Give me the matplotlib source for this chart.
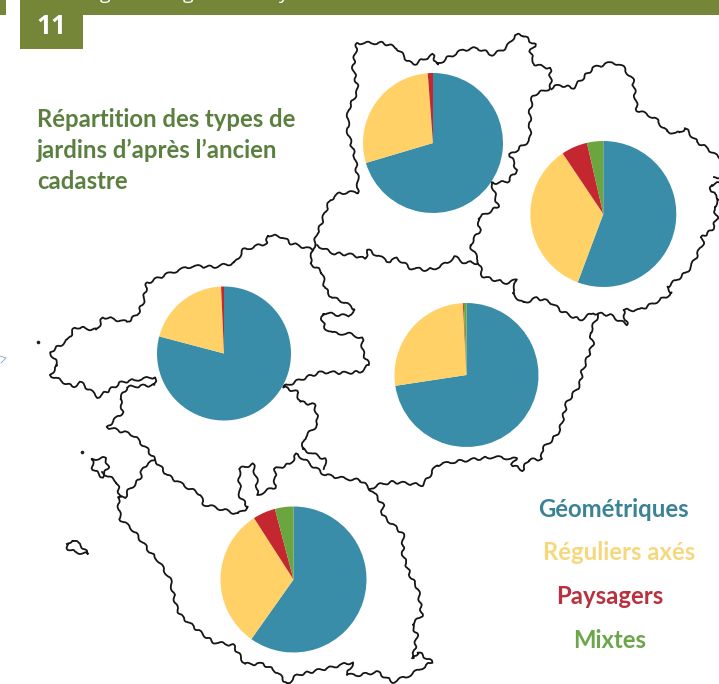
import matplotlib
matplotlib.use("Agg")
import matplotlib.pyplot as plt

W, H = 719, 684

# pie shares in % : Géométriques, Réguliers axés, Paysagers, Mixtes
types = ["Géométriques", "Réguliers axés", "Paysagers", "Mixtes"]
colors = ["#3A8DA9", "#FFD166", "#C4272F", "#6BA53D"]
text_colors = ["#3A8296", "#F6D87C", "#B9303F", "#6BA64A"]

mayenne = [70.4, 28.4, 1.2, 0.0]
sarthe = [55.7, 34.9, 5.8, 3.6]
maine_et_loire = [72.6, 26.6, 0.2, 0.6]
loire_atlantique = [79.1, 20.2, 0.7, 0.0]
vendee = [59.8, 31.1, 5.0, 4.1]

# (values, x, y, radius) in image pixels
pies = [
    (mayenne, 433, 143, 70),
    (sarthe, 603.3, 214, 73),
    (maine_et_loire, 466.5, 375, 72),
    (loire_atlantique, 224, 353.5, 67),
    (vendee, 293.5, 579.5, 73),
]

# map outlines, image pixels
mayenne_line = [(313, 250), (317, 233), (320, 227), (325, 213), (330, 200), (340, 193), (358, 192), (358, 180),
                (355, 157), (348, 133), (348, 110), (358, 90), (353, 67), (357, 43), (377, 43), (383, 43),
                (397, 48), (407, 60), (413, 65), (422, 60), (433, 55), (437, 65), (447, 58), (463, 50),
                (477, 48), (493, 55), (507, 47), (515, 35), (523, 35), (535, 45), (530, 52), (535, 65),
                (550, 68), (551, 88), (533, 95), (530, 110), (530, 140), (510, 155), (517, 170), (507, 182),
                (492, 183)]
mayenne_south = [(317, 245), (332, 253), (353, 255), (365, 259), (368, 250), (380, 257), (390, 262), (397, 258),
                 (410, 268), (427, 270), (440, 267), (455, 257), (463, 262), (478, 263)]
sarthe_line = [(492, 183), (498, 207), (478, 218), (480, 230), (470, 245), (478, 260), (483, 277), (507, 283),
               (517, 280), (512, 293), (523, 303), (537, 298), (550, 302), (563, 312), (580, 320), (593, 313),
               (610, 315), (627, 325), (623, 310), (640, 310), (660, 300), (672, 293), (667, 287), (687, 272),
               (693, 263), (703, 243), (702, 237), (712, 230), (717, 218), (714, 207), (719, 200), (716, 195),
               (711, 192), (711, 185), (719, 183)]
sarthe_north = [(719, 158), (707, 148), (697, 142), (685, 128), (680, 133), (667, 132), (655, 118), (637, 110),
                (633, 80), (623, 67), (613, 62), (593, 68), (583, 78), (573, 88), (560, 85), (551, 88)]
blob = [(714, 177), (719, 177)]
loire_atl_north = [(313, 250), (290, 243), (283, 237), (268, 235), (267, 243), (243, 250), (235, 263), (213, 267),
                   (192, 266), (170, 273), (147, 283), (143, 303), (137, 315), (127, 322), (103, 317), (97, 330),
                   (75, 327), (68, 340), (50, 352), (58, 365), (50, 375), (73, 387), (80, 382), (98, 397),
                   (122, 382), (155, 377), (155, 385), (127, 387), (120, 399), (123, 412), (107, 427), (133, 435),
                   (147, 449), (155, 460), (167, 475), (183, 485), (200, 494), (203, 504), (238, 514), (248, 507),
                   (240, 497), (239, 469), (253, 464), (257, 482), (257, 495), (275, 487), (275, 469), (290, 464),
                   (297, 454), (310, 464), (325, 475), (347, 479), (360, 480), (370, 489)]
loire_atl_east = [(313, 250), (310, 263), (322, 272), (325, 288), (332, 298), (340, 300), (355, 309), (348, 316),
                  (323, 313), (322, 320), (325, 328), (332, 333), (350, 334), (362, 338), (363, 353), (369, 365),
                  (360, 372), (343, 373), (322, 372), (307, 377), (283, 387), (297, 392), (300, 402), (315, 405),
                  (318, 424), (305, 437), (302, 449), (325, 459), (325, 469)]
maine_south = [(370, 489), (377, 485), (393, 482), (423, 485), (437, 465), (453, 462), (493, 457), (517, 459),
               (512, 465), (523, 470), (528, 460), (542, 459), (542, 449), (553, 439), (560, 430), (567, 402),
               (580, 385), (582, 372), (593, 344), (590, 333), (598, 315)]
vendee_line = [(155, 460), (143, 467), (140, 479), (127, 492), (125, 498), (118, 497), (120, 519), (133, 530),
               (150, 552), (157, 559), (170, 579), (177, 609), (182, 617), (200, 632), (213, 642), (233, 645),
               (245, 664), (263, 664), (277, 672), (287, 684)]
vendee_south = [(287, 684), (297, 675), (333, 667), (353, 662), (347, 675), (360, 675), (377, 672), (393, 682),
                (410, 675), (432, 662), (418, 652), (413, 659), (417, 635), (412, 625), (422, 615), (418, 589),
                (410, 575), (403, 555), (403, 534), (382, 515), (383, 505), (373, 492), (370, 489)]
noirmoutier = [(67, 544), (72, 540), (80, 544), (88, 554), (75, 552), (68, 549), (67, 544)]
re_island = [(92, 459), (106, 458), (108, 468), (102, 477), (93, 469), (92, 459)]
re_bridge = [(102, 472), (117, 482), (120, 497)]
outlines = [mayenne_line, mayenne_south, sarthe_line, sarthe_north, blob, loire_atl_north, loire_atl_east,
            maine_south, vendee_line, vendee_south, noirmoutier, re_island, re_bridge]
islets = [(82, 452), (38, 342)]


def up(y):
    return H - y


fig = plt.figure(figsize=(W / 100, H / 100), dpi=100)
ax = fig.add_axes([0, 0, 1, 1])

# header band
ax.fill_between([20, W], up(15), H, color="#758638", lw=0)
ax.fill_between([0, 6], up(15), H, color="#758638", lw=0)
ax.fill_between([20, 83], up(49), up(15), color="#758638", lw=0)
ax.text(51, up(26), "11", color="white", fontsize=19, fontweight="bold", family="Open Sans", ha="center", va="center")
# only the descenders of the header sentence show in the crop
for x, c in [(105, "g"), (188, "g"), (283, "y")]:
    ax.text(x, H + 1, c, color="white", fontsize=14, family="Open Sans", ha="center", va="baseline")

for line in outlines:
    drawn, = ax.plot([p[0] for p in line], [up(p[1]) for p in line], color="#151515", lw=1.3,
                     solid_joinstyle="round")
    drawn.set_sketch_params(1.3, 14, 2)  # hand traced wobble of the border
ax.plot([p[0] for p in islets], [up(p[1]) for p in islets], "o", color="#222222", ms=1.6)
ax.plot([0, 6, 1], [up(356), up(358), up(363)], color="#7FA3D0", lw=0.6)

for values, x, y, r in pies:
    ax.pie(values, colors=colors, center=(x, up(y)), radius=r, startangle=90, counterclock=False, frame=True,
           wedgeprops={"lw": 0})

title_lines = ["Répartition des types de", "jardins d’après l’ancien", "cadastre"]
for i, t in enumerate(title_lines):
    ax.text(37, up(127 + 31 * i), t, color="#5A7F3F", fontsize=17.2, fontweight="bold", family="Lato", va="baseline")

legend_x = [613, 619.5, 610, 610]
legend_y = [517, 560, 604, 648]
for t, c, x, y in zip(types, text_colors, legend_x, legend_y):
    ax.text(x, up(y), t, color=c, fontsize=17.2, fontweight="bold", family="Lato", ha="center", va="baseline")

ax.set_xlim(0, W)
ax.set_ylim(0, H)
ax.set_aspect("auto")
ax.axis("off")
fig.savefig("out.png", dpi=100)
